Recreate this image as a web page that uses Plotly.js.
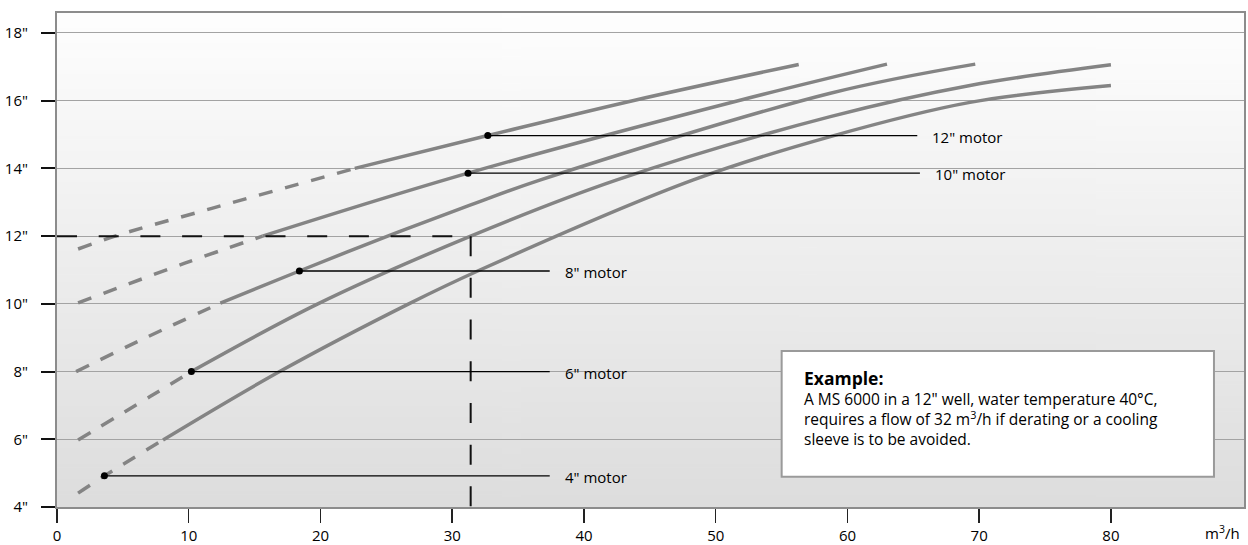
<!DOCTYPE html>
<html><head><meta charset="utf-8">
<script src="https://cdn.plot.ly/plotly-3.0.1.min.js"></script>
<style>html,body{margin:0;padding:0;background:#fff;} #chart{width:1248px;height:545px;}</style>
</head><body><div id="chart"></div>
<script>
// ---------- axis ticks ----------
const xTickVals = [0, 10, 20, 30, 40, 50, 60, 70, 80];
const xTickText = ['0', '10', '20', '30', '40', '50', '60', '70', '80'];
const yTickVals = [4, 6, 8, 10, 12, 14, 16, 18];
const yTickText = ['4"', '6"', '8"', '10"', '12"', '14"', '16"', '18"'];

// ---------- curves (flow m3/h vs well diameter in inch) ----------
const m12DashX = [1.6, 4.4, 11.75, 22.6];
const m12DashY = [11.62, 12.0, 12.82, 14.0];
const m12SolidX = [22.6, 32.7, 43.7, 56.3];
const m12SolidY = [14.0, 14.97, 16.0, 17.07];

const m10DashX = [1.6, 9.7, 15.6];
const m10DashY = [10.03, 11.2, 12.0];
const m10SolidX = [15.6, 31.2, 51.7, 63.0];
const m10SolidY = [12.0, 13.86, 16.0, 17.08];

const m8DashX = [1.45, 6.9, 12.4];
const m8DashY = [8.0, 9.03, 10.02];
const m8SolidX = [12.4, 18.4, 25.1, 31.4, 36.7, 58.7, 69.7];
const m8SolidY = [10.02, 10.97, 12.0, 12.92, 13.66, 16.22, 17.08];

const m6DashX = [1.6, 7.06, 10.2];
const m6DashY = [5.98, 7.26, 8.0];
const m6SolidX = [10.2, 19.8, 31.4, 42.5, 58.7, 69.3, 80.0];
const m6SolidY = [8.0, 10.0, 12.0, 13.66, 15.53, 16.45, 17.06];

const m4DashX = [1.6, 3.6, 8.05];
const m4DashY = [4.41, 4.92, 5.98];
const m4SolidX = [8.05, 16.9, 26.7, 32.1, 48.3, 58.7, 69.3, 80.0];
const m4SolidY = [5.98, 8.0, 10.0, 11.0, 13.66, 14.94, 15.95, 16.45];

// ---------- motor labels ----------
const motorLabels = ['12" motor', '10" motor', '8" motor', '6" motor', '4" motor'];
const labelDotX = [32.7, 31.2, 18.4, 10.2, 3.6];
const labelDotY = [14.97, 13.86, 10.97, 8.0, 4.92];
const labelEndX = [65.3, 65.5, 37.4, 37.4, 37.4];

// ---------- example ----------
const exampleFlow = 31.4;
const exampleWell = 12;
const axisMinX = 0, axisMinY = 4;
const xRange = [0, 90.1];
const yRange = [4, 18.59];

const exampleTitle = 'Example:';
const exampleText = 'A MS 6000 in a 12" well, water temperature 40°C,<br>requires a flow of 32 m<sup>3</sup>/h if derating or a cooling<br>sleeve is to be avoided.';
const xUnit = 'm<sup>3</sup>/h';

const FONT = 'Open Sans, Noto Sans, sans-serif';
const curveColor = '#848484';
const traces = [];

const curves = [
  [m12DashX, m12DashY, m12SolidX, m12SolidY],
  [m10DashX, m10DashY, m10SolidX, m10SolidY],
  [m8DashX, m8DashY, m8SolidX, m8SolidY],
  [m6DashX, m6DashY, m6SolidX, m6SolidY],
  [m4DashX, m4DashY, m4SolidX, m4SolidY]
];
curves.forEach(c => {
  traces.push({x: c[0], y: c[1], mode: 'lines', hoverinfo: 'skip', showlegend: false,
    line: {color: curveColor, width: 3.5, dash: '14px,13px', shape: 'spline', smoothing: 1}});
  traces.push({x: c[2], y: c[3], mode: 'lines', hoverinfo: 'skip', showlegend: false,
    line: {color: curveColor, width: 3.5, shape: 'spline', smoothing: 1}});
});

// example dashed lines
traces.push({x: [axisMinX, exampleFlow], y: [exampleWell, exampleWell], mode: 'lines', showlegend: false, hoverinfo: 'skip',
  line: {color: '#111', width: 2, dash: '20px,21.7px'}});
traces.push({x: [exampleFlow, exampleFlow], y: [exampleWell, axisMinY], mode: 'lines', showlegend: false, hoverinfo: 'skip',
  line: {color: '#111', width: 2, dash: '20px,21.7px'}});

// label leader lines
motorLabels.forEach((m, i) => {
  traces.push({x: [labelDotX[i], labelEndX[i]], y: [labelDotY[i], labelDotY[i]], mode: 'lines', showlegend: false, hoverinfo: 'skip',
    line: {color: '#000', width: 1.3}});
});
traces.push({x: labelDotX, y: labelDotY, mode: 'markers', showlegend: false, hoverinfo: 'skip',
  marker: {color: '#000', size: 7}});

// gradient background
const cv = document.createElement('canvas'); cv.width = 4; cv.height = 256;
const g = cv.getContext('2d');
const grd = g.createLinearGradient(0, 0, 0, 256);
grd.addColorStop(0, '#fefefe'); grd.addColorStop(1, '#dddddd');
g.fillStyle = grd; g.fillRect(0, 0, 4, 256);

const annotations = motorLabels.map((m, i) => ({
  x: labelEndX[i], y: labelDotY[i], xref: 'x', yref: 'y', text: m, showarrow: false,
  xanchor: 'left', yanchor: 'middle', xshift: 13, yshift: -1,
  font: {family: FONT, size: 15, color: '#000'}
}));
annotations.push({x: 0.6276, y: 0.2009, xref: 'paper', yref: 'paper',
  text: '<b><span style="font-size:17.5px">' + exampleTitle + '</span></b><br>' + exampleText,
  showarrow: false, align: 'left', xanchor: 'left', yanchor: 'middle',
  font: {family: FONT, size: 15.5, color: '#000'}});
annotations.push({x: 0.9983, y: -0.052, xref: 'paper', yref: 'paper', text: xUnit, showarrow: false,
  xanchor: 'right', yanchor: 'middle', font: {family: FONT, size: 15, color: '#000'}});

const layout = {
  width: 1248, height: 545,
  margin: {l: 57, r: 4, t: 13, b: 38, pad: 0},
  paper_bgcolor: '#ffffff', plot_bgcolor: 'rgba(0,0,0,0)',
  showlegend: false,
  images: [{source: cv.toDataURL(), xref: 'paper', yref: 'paper', x: 0, y: 1, sizex: 1, sizey: 1,
    sizing: 'stretch', layer: 'below', xanchor: 'left', yanchor: 'top'}],
  xaxis: {range: xRange, tickvals: xTickVals, ticktext: xTickText, ticks: 'outside', ticklen: 14, tickwidth: 1.5,
    tickcolor: '#222', showgrid: false, zeroline: false, showline: true, mirror: true, linecolor: '#8c8c8c', linewidth: 2,
    tickfont: {family: FONT, size: 15, color: '#000'}, fixedrange: true},
  yaxis: {range: yRange, tickvals: yTickVals, ticktext: yTickText, ticks: 'outside', ticklen: 14, tickwidth: 2,
    tickcolor: '#111', showgrid: true, gridcolor: '#a3a3a3', gridwidth: 1, zeroline: false, showline: true, mirror: true,
    linecolor: '#8c8c8c', linewidth: 2, ticklabelstandoff: 10,
    tickfont: {family: FONT, size: 15, color: '#000'}, fixedrange: true},
  shapes: [{type: 'rect', xref: 'paper', yref: 'paper', x0: 0.6105, x1: 0.9747, y0: 0.0613, y1: 0.3158,
    fillcolor: '#ffffff', line: {color: '#9a9a9a', width: 2}, layer: 'above'}],
  annotations: annotations
};

Plotly.newPlot('chart', traces, layout, {staticPlot: true, displayModeBar: false});
</script></body></html>
